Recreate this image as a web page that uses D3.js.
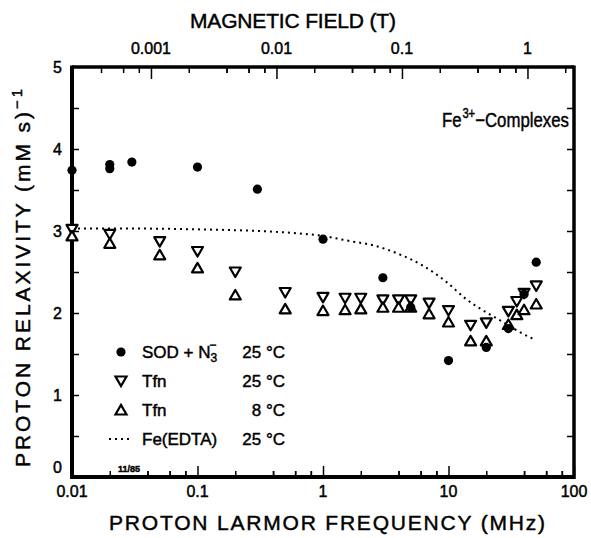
<!DOCTYPE html>
<html><head><meta charset="utf-8">
<script src="https://cdn.jsdelivr.net/npm/d3@7"></script>
<style>
html,body{margin:0;padding:0;background:#fff;}
text{font-family:"Liberation Sans",Arial,sans-serif;fill:#000;stroke:#000;stroke-width:0.45px;}
</style></head>
<body><svg id="chart" width="591" height="538"></svg>
<script>
// ---- data ----
const sodFreq = [0.01, 0.02, 0.02, 0.03, 0.1, 0.3, 1, 3, 5, 10, 20, 30, 40, 50];
const sodVal  = [3.74, 3.76, 3.81, 3.84, 3.78, 3.51, 2.90, 2.43, 2.07, 1.42, 1.58, 1.81, 2.23, 2.62];

const tfn25Freq = [0.01, 0.02, 0.05, 0.1, 0.2, 0.5, 1, 1.5, 2, 3, 4, 5, 7, 10, 15, 20, 30, 35, 40, 50];
const tfn25Val  = [3.02, 2.96, 2.87, 2.75, 2.50, 2.25, 2.19, 2.18, 2.18, 2.16, 2.16, 2.16, 2.12, 2.03, 1.85, 1.88, 2.02, 2.14, 2.24, 2.33];

const tfn8Freq = [0.01, 0.02, 0.05, 0.1, 0.2, 0.5, 1, 1.5, 2, 3, 4, 5, 7, 10, 15, 20, 30, 35, 40, 50];
const tfn8Val  = [2.94, 2.85, 2.71, 2.55, 2.22, 2.05, 2.03, 2.04, 2.05, 2.07, 2.07, 2.07, 1.99, 1.89, 1.66, 1.66, 1.86, 1.98, 2.04, 2.11];

const feFreq = [0.01, 0.03, 0.1, 0.3, 0.65, 1, 1.6, 2.6, 4, 6.2, 9.6, 13.8, 19.9, 28.6, 36.6, 49.6];
const feVal  = [3.03, 3.03, 3.02, 3.00, 2.97, 2.94, 2.88, 2.82, 2.72, 2.58, 2.38, 2.17, 2.01, 1.87, 1.77, 1.67];

const xTickLabels = ["0.01", "0.1", "1", "10", "100"];
const xMajor = [0.01, 0.1, 1, 10, 100];
const topTickLabels = ["0.001", "0.01", "0.1", "1"];
const topMajor = [0.001, 0.01, 0.1, 1];
const yTickLabels = ["0", "1", "2", "3", "4", "5"];
const minorMult = [2, 4, 6, 8];
const larmorMHzPerT = 42.58;

const legendRows = [
  {sym: "circle", name: "SOD + N", temp: "25 °C"},
  {sym: "down", name: "Tfn", temp: "25 °C"},
  {sym: "up", name: "Tfn", temp: "8 °C"},
  {sym: "dots", name: "Fe(EDTA)", temp: "25 °C"}
];

// ---- layout ----
const L = 72, R = 574, T = 67, B = 477;
const svg = d3.select("#chart");
const x = d3.scaleLog().domain([0.01, 100]).range([L, R]);
const xT = d3.scaleLog().domain([0.01 / larmorMHzPerT, 100 / larmorMHzPerT]).range([L, R]);
const y = d3.scaleLinear().domain([0, 5]).range([B, T]);

function minorTicks(majors, scale) {
  const out = [];
  majors.forEach(m => minorMult.forEach(k => out.push(m * k)));
  majors.forEach(m => out.push(m / 10 * 4, m / 10 * 6, m / 10 * 8));
  const [a, b] = scale.domain();
  return out.filter(v => v > a * 1.0001 && v < b * 0.9999);
}

// bottom axis ticks
const gB = svg.append("g").attr("transform", `translate(0,${B})`);
gB.call(d3.axisBottom(x).tickValues(minorTicks(xMajor, x)).tickSize(-6).tickFormat(""));
gB.append("g").call(d3.axisBottom(x).tickValues(xMajor).tickSize(-11).tickFormat(""));
gB.selectAll(".domain").remove();
gB.selectAll("line").attr("stroke", "#000").attr("stroke-width", 1.5);

// top axis ticks
const gT = svg.append("g").attr("transform", `translate(0,${T})`);
gT.call(d3.axisTop(xT).tickValues(minorTicks(topMajor, xT)).tickSize(-6).tickFormat(""));
gT.append("g").call(d3.axisTop(xT).tickValues(topMajor).tickSize(-12).tickFormat(""));
gT.selectAll(".domain").remove();
gT.selectAll("line").attr("stroke", "#000").attr("stroke-width", 1.5);

// y ticks every 0.5
const yt = d3.range(0.5, 5, 0.5);
const gL = svg.append("g").attr("transform", `translate(${L},0)`)
  .call(d3.axisLeft(y).tickValues(yt).tickSize(-7).tickFormat(""));
const gR = svg.append("g").attr("transform", `translate(${R},0)`)
  .call(d3.axisRight(y).tickValues(yt).tickSize(-7).tickFormat(""));
[gL, gR].forEach(g => { g.selectAll(".domain").remove(); g.selectAll("line").attr("stroke", "#000").attr("stroke-width", 1.5); });

// frame
svg.append("line").attr("x1", L).attr("x2", R).attr("y1", T).attr("y2", T).attr("stroke", "#000").attr("stroke-width", 3.5);
svg.append("line").attr("x1", L).attr("x2", R).attr("y1", B).attr("y2", B).attr("stroke", "#000").attr("stroke-width", 4);
svg.append("line").attr("x1", L).attr("x2", L).attr("y1", T - 1.5).attr("y2", B + 2).attr("stroke", "#000").attr("stroke-width", 4);
svg.append("line").attr("x1", R).attr("x2", R).attr("y1", T - 1.5).attr("y2", B + 2).attr("stroke", "#000").attr("stroke-width", 3.5);

// tick labels
xMajor.forEach((v, i) => {
  svg.append("text").attr("x", x(v)).attr("y", 497).attr("text-anchor", "middle")
    .attr("font-size", 16).text(xTickLabels[i]);
});
topMajor.forEach((v, i) => {
  svg.append("text").attr("x", xT(v)).attr("y", 54).attr("text-anchor", "middle")
    .attr("font-size", 16).text(topTickLabels[i]);
});
yTickLabels.forEach((s, i) => {
  const yy = i === 0 ? y(0) - 4 : y(i) + 6;
  svg.append("text").attr("x", 62).attr("y", yy).attr("text-anchor", "end")
    .attr("font-size", 16).text(s);
});

// axis titles
svg.append("text").attr("x", 293).attr("y", 28).attr("text-anchor", "middle")
  .attr("font-size", 21).attr("textLength", 206).attr("lengthAdjust", "spacing")
  .text("MAGNETIC FIELD  (T)");
svg.append("text").attr("x", 327).attr("y", 530).attr("text-anchor", "middle")
  .attr("font-size", 21).attr("textLength", 436).attr("lengthAdjust", "spacing")
  .text("PROTON LARMOR FREQUENCY  (MHz)");
const yTitle = svg.append("text").attr("transform", "translate(30,278) rotate(-90)")
  .attr("text-anchor", "middle").attr("font-size", 21)
  .attr("textLength", 378).attr("lengthAdjust", "spacing");
yTitle.append("tspan").text("PROTON RELAXIVITY  (mM s)");
yTitle.append("tspan").attr("dy", -8).attr("font-size", 15).text("−1");

// inner title (horizontally condensed like the plotter font)
const it = svg.append("text").attr("transform", "translate(442,127) scale(0.8,1)").attr("font-size", 21);
it.append("tspan").text("Fe");
it.append("tspan").attr("dx", 1).attr("dy", -9).attr("font-size", 14).text("3+");
it.append("tspan").attr("dy", 9).text("−Complexes");

// date stamp
svg.append("text").attr("x", 118).attr("y", 472).attr("font-size", 9).attr("font-weight", "bold").text("11/85");

// Fe(EDTA) dotted curve
const feData = feFreq.map((f, i) => [f, feVal[i]]);
svg.append("path").datum(feData)
  .attr("d", d3.line().x(d => x(d[0])).y(d => y(d[1])).curve(d3.curveMonotoneX))
  .attr("fill", "none").attr("stroke", "#000").attr("stroke-width", 2)
  .attr("stroke-dasharray", "2,4");

// symbols
const triDown = (cx, cy) => `M${cx - 5.5},${cy - 4.5}L${cx + 5.5},${cy - 4.5}L${cx},${cy + 5}Z`;
const triUp = (cx, cy) => `M${cx - 5.5},${cy + 4.5}L${cx + 5.5},${cy + 4.5}L${cx},${cy - 5}Z`;

svg.append("g").selectAll("path").data(tfn25Freq.map((f, i) => [f, tfn25Val[i]])).join("path")
  .attr("d", d => triDown(x(d[0]), y(d[1])))
  .attr("fill", "#fff").attr("stroke", "#000").attr("stroke-width", 2.2).attr("stroke-linejoin", "round");
svg.append("g").selectAll("path").data(tfn8Freq.map((f, i) => [f, tfn8Val[i]])).join("path")
  .attr("d", d => triUp(x(d[0]), y(d[1])))
  .attr("fill", "#fff").attr("stroke", "#000").attr("stroke-width", 2.2).attr("stroke-linejoin", "round");
svg.append("g").selectAll("circle").data(sodFreq.map((f, i) => [f, sodVal[i]])).join("circle")
  .attr("cx", d => x(d[0])).attr("cy", d => y(d[1])).attr("r", 4.6).attr("fill", "#000");

// legend
const ly0 = 352, ldy = 29;
legendRows.forEach((r, i) => {
  const cy = ly0 + i * ldy;
  if (r.sym === "circle") svg.append("circle").attr("cx", 121).attr("cy", cy).attr("r", 4.6).attr("fill", "#000");
  if (r.sym === "down") svg.append("path").attr("d", triDown(121, cy)).attr("fill", "#fff").attr("stroke", "#000").attr("stroke-width", 2.2);
  if (r.sym === "up") svg.append("path").attr("d", triUp(121, cy)).attr("fill", "#fff").attr("stroke", "#000").attr("stroke-width", 2.2);
  if (r.sym === "dots") svg.append("line").attr("x1", 109).attr("x2", 133).attr("y1", cy).attr("y2", cy)
    .attr("stroke", "#000").attr("stroke-width", 2).attr("stroke-dasharray", "2,4");
  const t = svg.append("text").attr("x", 142).attr("y", cy + 6).attr("font-size", 17);
  t.append("tspan").text(r.name);
  if (i === 0) {
    t.append("tspan").attr("dy", 4).attr("font-size", 12).text("3");
    t.append("tspan").attr("dx", -8).attr("dy", -13).attr("font-size", 12).text("−");
  }
  svg.append("text").attr("x", 285).attr("y", cy + 6).attr("text-anchor", "end").attr("font-size", 17).text(r.temp);
});
</script></body></html>
